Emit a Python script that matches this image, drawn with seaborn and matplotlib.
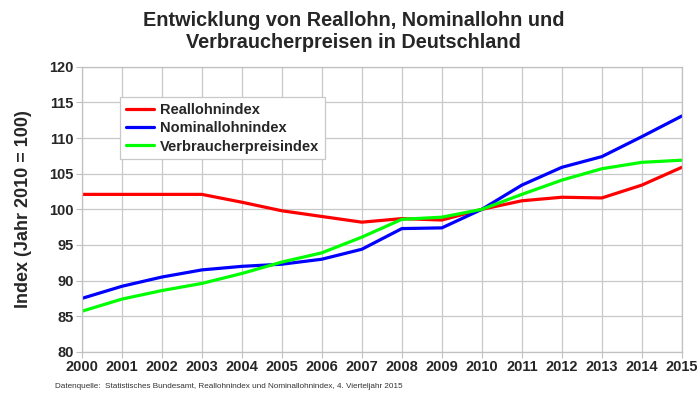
import pandas as pd
import matplotlib
matplotlib.use("Agg")
import matplotlib.pyplot as plt
import seaborn as sns

# Index values (2010 = 100)
jahre = list(range(2000, 2016))
reallohn = [102.1, 102.1, 102.1, 102.1, 101.0, 99.8, 99.0, 98.2,
            98.7, 98.5, 100.0, 101.2, 101.7, 101.6, 103.4, 105.9]
nominallohn = [87.5, 89.2, 90.5, 91.5, 92.0, 92.3, 93.0, 94.4,
               97.3, 97.4, 100.0, 103.4, 105.9, 107.4, 110.2, 113.1]
verbraucher = [85.7, 87.4, 88.6, 89.6, 91.0, 92.6, 93.9, 96.1,
               98.6, 98.9, 100.0, 102.1, 104.1, 105.7, 106.6, 106.9]

serien = ["Reallohnindex", "Nominallohnindex", "Verbraucherpreisindex"]
farben = ["#ff0000", "#0000ff", "#00ff00"]

df = pd.DataFrame({
    "Jahr": jahre * 3,
    "Index": reallohn + nominallohn + verbraucher,
    "Reihe": [s for s in serien for _ in jahre],
})

sns.set_style("whitegrid")
plt.rcParams["font.family"] = ["Liberation Sans", "DejaVu Sans"]

fig = plt.figure(figsize=(7, 3.98), dpi=100)
ax = fig.add_axes([0.117, 0.116, 0.857, 0.716])

sns.lineplot(data=df, x="Jahr", y="Index", hue="Reihe", hue_order=serien,
             palette=farben, linewidth=2.3, ax=ax)

ax.set_xlim(2000, 2015)
ax.set_ylim(80, 120)
ax.set_xticks(jahre)
ax.set_yticks(range(80, 121, 5))
ax.tick_params(axis="both", labelsize=10.5, length=4, width=0.8,
               color="#c0c0c0", pad=2, direction="out")
ax.tick_params(left=True, bottom=True)
for lab in ax.get_xticklabels() + ax.get_yticklabels():
    lab.set_fontweight("bold")

ax.grid(True, color="#c8c8c8", linewidth=0.9)
for sp in ax.spines.values():
    sp.set_color("#c0c0c0")
    sp.set_linewidth(0.9)

ax.set_xlabel("")
ax.set_ylabel("Index (Jahr 2010 = 100)", fontsize=13, fontweight="bold", labelpad=12)

leg = ax.legend(loc="upper left", bbox_to_anchor=(0.052, 0.92), frameon=True,
                fancybox=False, edgecolor="#c8c8c8", framealpha=1,
                prop={"weight": "bold", "size": 10.5}, handlelength=1.9,
                handletextpad=0.4, borderpad=0.4, labelspacing=0.3)
leg.get_frame().set_linewidth(0.9)

fig.text(0.505, 0.972, "Entwicklung von Reallohn, Nominallohn und\nVerbraucherpreisen in Deutschland",
         ha="center", va="top", fontsize=14.3, fontweight="bold",
         family=["Liberation Sans Narrow", "Liberation Sans", "DejaVu Sans"],
         linespacing=1.2)

fig.text(0.078, 0.025,
         "Datenquelle:  Statistisches Bundesamt, Reallohnindex und Nominallohnindex, 4. Vierteljahr 2015",
         fontsize=5.9, color="#333333")

fig.savefig("out.png", dpi=100)
